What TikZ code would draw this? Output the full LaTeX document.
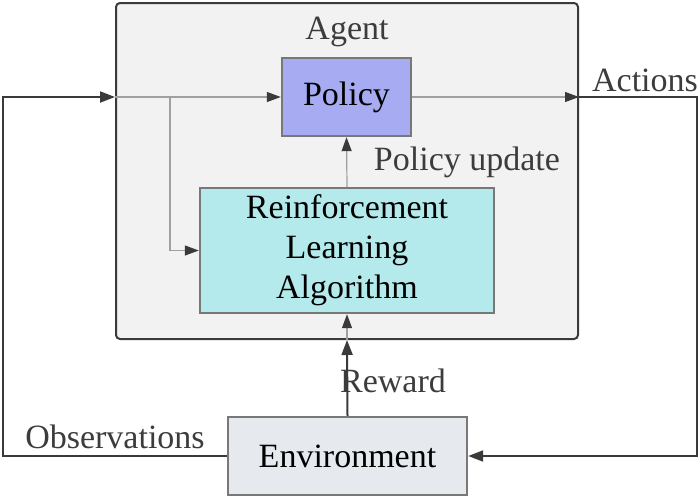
\documentclass[tikz,border=0pt]{standalone}
\usepackage{fontspec}
\setmainfont{LiberationSerif}[Extension=.ttf, UprightFont=*-Regular, BoldFont=*-Bold]
\usepackage{xcolor}
\usetikzlibrary{positioning,arrows.meta}
\definecolor{AgentGray}{HTML}{F2F2F2}
\definecolor{PolicyBlue}{HTML}{A6ABF2}
\definecolor{AlgoCyan}{HTML}{B4EAEB}
\definecolor{EnvGray}{HTML}{E6EAEE}
\definecolor{LineDark}{HTML}{3A3A3A}
\definecolor{LineLight}{HTML}{A0A0A0}
\definecolor{LabelGray}{HTML}{3C3C3C}

\begin{document}
\begin{tikzpicture}[x=1pt, y=-1pt,
    every node/.style={font=\rmfamily\fontsize{34}{40}\selectfont}]

    \tikzstyle{box}=[
      draw=LineLight!75!black,
      line width=2.4pt,
      align=center,
      inner sep=0pt
    ]
    \tikzstyle{outer}=[->, >={Triangle[length=15pt,width=11pt]}, line width=2pt, color=LineDark]
    \tikzstyle{inner}=[->, >={Triangle[length=14pt,width=10pt,color=LineDark]}, line width=1.2pt, color=LineLight]
    \tikzstyle{tag}=[text=LabelGray]

    \useasboundingbox (0,0) rectangle (700,498);

    % --- Agent frame ---
    \node[draw=LineDark, line width=2pt, fill=AgentGray, rounded corners=4pt,
      minimum width=462pt, minimum height=336pt, inner sep=0pt] (agent) at (347,171) {};
    \node[tag] (agentlbl) at (347,32) {Agent};

    % --- Blocks ---
    \node[box, fill=PolicyBlue, minimum width=129pt, minimum height=78pt] (policy) at (346.5,97) {Policy};
    \node[box, fill=AlgoCyan, minimum width=294pt, minimum height=125pt] (algo) at (347,250.5)
      {Reinforcement\\ Learning\\ Algorithm};
    \node[box, fill=EnvGray, minimum width=239pt, minimum height=78pt] (env) at (347.5,456) {Environment};

    % --- Junction points on the agent frame ---
    \coordinate (obsin) at (agent.west |- policy.west);
    \coordinate (actout) at (agent.east |- policy.east);
    \coordinate (rewin) at (algo.south |- agent.south);
    \coordinate (branch) at (170,97);

    % --- Outer loop ---
    \draw[outer] (env.west) -- ++(-224,0) |- (obsin);
    \draw[outer] (actout) -- ++(118,0) |- (env.east);
    \draw[outer] (env.north) -- (rewin);

    % --- Inside the agent ---
    \draw[inner] (obsin) -- (policy.west);
    \draw[inner] (branch) |- (algo.west);
    \draw[inner] (policy.east) -- (actout);
    \draw[inner] (algo.north) -- (policy.south);
    \draw[inner] (rewin) -- (algo.south);

    % --- Labels ---
    \node[tag] (obslbl) at (115,437) {Observations};
    \node[tag] (actlbl) at (645,80) {Actions};
    \node[tag] (rewlbl) at (393,381) {Reward};
    \node[tag] (updlbl) at (467,162) {Policy update};

  \end{tikzpicture}
\end{document}
